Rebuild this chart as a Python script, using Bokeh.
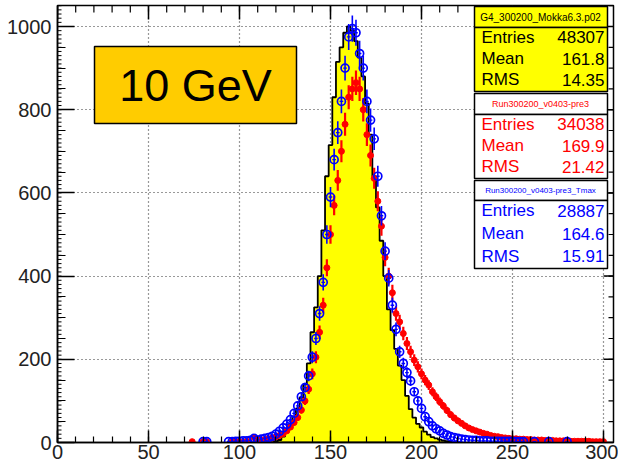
import numpy as np
from bokeh.plotting import figure
from bokeh.models import Range1d, FixedTicker, BoxAnnotation, Label
from bokeh.embed import file_html
from bokeh.resources import INLINE

# ---------------- data (bin centres, counts) ----------------
yel_x = [118, 120, 122, 124, 126, 128, 130, 132, 134, 136, 138, 140, 142, 144, 146, 148,
         150, 152, 154, 156, 158, 160, 162, 164, 166, 168, 170, 172, 174, 176, 178, 180,
         182, 184, 186, 188, 190, 192, 194, 196, 198, 200, 202, 204, 206, 208, 210, 212,
         214, 216, 218]
yel_y = [1, 3, 6, 14, 26, 42, 62, 82, 108, 140, 190, 265, 325, 400, 510, 640,
         715, 830, 915, 950, 985, 1000, 990, 965, 925, 880, 815, 740, 640, 565, 485, 400,
         320, 270, 225, 185, 150, 112, 80, 60, 45, 36, 26, 19, 13, 10, 7, 5,
         3, 2, 1]

red_x = [74, 80, 82, 96, 98, 100, 104, 108, 110, 112, 114, 116, 118, 120, 122, 124, 126,
         128, 130, 132, 134, 136, 138, 140, 142, 144, 146, 148, 150, 152, 154, 156, 158,
         160, 162, 164, 166, 168, 170, 172, 174, 176, 178, 180, 182, 184, 186, 188, 190,
         192, 194, 196, 198, 200, 202, 204, 206, 208, 210, 212, 214, 216, 218, 220, 222,
         224, 226, 228, 230, 232, 234, 236, 238, 240, 242, 244, 246, 248, 250, 252, 254,
         256, 258, 260, 262, 264, 266, 268, 270, 272, 274, 276, 278, 280, 282, 284, 286,
         288, 290, 292, 294, 296, 298, 300]
red_y = [2, 2, 2, 2, 2, 2, 3, 12, 5, 6, 7, 9, 11, 14, 17, 21, 28,
         37, 48, 60, 78, 100, 128, 165, 205, 265, 330, 420, 500, 570, 630, 700, 765,
         830, 850, 865, 850, 800, 740, 690, 635, 580, 520, 445, 400, 360, 310, 290, 262,
         238, 218, 198, 182, 165, 150, 138, 122, 110, 98, 88, 77, 67, 59, 52, 46,
         40, 35, 31, 28, 25, 22, 20, 17, 15, 14, 12, 11, 10, 9, 9, 8,
         8, 7, 7, 6, 6, 6, 5, 5, 5, 4, 4, 4, 4, 3, 3, 3,
         3, 3, 3, 2, 2, 2, 2]

blu_x = [80, 82, 94, 96, 98, 100, 102, 104, 106, 108, 110, 112, 114, 116, 118, 120, 122,
         124, 126, 128, 130, 132, 134, 136, 138, 140, 142, 144, 146, 148, 150, 152, 154,
         156, 158, 160, 162, 164, 166, 168, 170, 172, 174, 176, 178, 180, 182, 184, 186,
         188, 190, 192, 194, 196, 198, 200, 202, 204, 206, 208, 210, 212, 214, 216, 218,
         220, 222, 224, 226, 228, 230, 232, 234, 236, 238, 240, 242, 244, 246, 248, 250,
         252, 254, 256, 262, 270, 280]
blu_y = [2, 2, 2, 2, 3, 3, 4, 4, 5, 10, 6, 8, 10, 12, 15, 20, 27,
         35, 44, 55, 70, 88, 110, 132, 160, 205, 250, 310, 385, 500, 590, 680, 745,
         820, 900, 975, 995, 985, 935, 900, 820, 775, 730, 640, 545, 460, 395, 330, 272,
         218, 190, 168, 148, 122, 100, 82, 62, 50, 40, 33, 28, 22, 18, 14, 12,
         10, 8, 7, 6, 5, 5, 4, 4, 4, 3, 3, 3, 3, 3, 3, 3,
         2, 2, 2, 2, 2, 2]

x_ticks = [0, 50, 100, 150, 200, 250, 300]
y_ticks = [0, 200, 400, 600, 800, 1000]

stats_names = ["G4_300200_Mokka6.3.p02", "Run300200_v0403-pre3", "Run300200_v0403-pre3_Tmax"]
stats_entries = ["48307", "34038", "28887"]
stats_mean = ["161.8", "169.9", "164.6"]
stats_rms = ["14.35", "21.42", "15.91"]
energy_label = "10 GeV"

BIN_HALF = 1.0
XMAX = 305.5
YMAX = 1050.5

# ---------------- figure ----------------
W, H = 618, 465
FX0, FX1, FY0, FY1 = 57, 613, 5, 442
PXX = XMAX / (FX1 - FX0)   # data units per pixel (x)
PXY = YMAX / (FY1 - FY0)   # data units per pixel (y)

p = figure(width=W, height=H, x_range=Range1d(0, XMAX), y_range=Range1d(0, YMAX),
           output_backend="svg", toolbar_location=None,
           min_border_left=FX0, min_border_right=W - FX1,
           min_border_top=FY0, min_border_bottom=H - FY1)
p.background_fill_color = "white"
p.border_fill_color = "white"
p.outline_line_color = "black"
p.outline_line_width = 1.5

FONT = "Liberation Sans"

x_minor = list(range(0, 310, 10))
y_minor = list(range(0, 1051, 50))
y_tert = list(range(0, 1051, 10))
xt = FixedTicker(ticks=x_ticks, minor_ticks=x_minor)
yt = FixedTicker(ticks=y_ticks, minor_ticks=y_minor)

for ax in p.xaxis:
    ax.ticker = xt
    ax.major_tick_in = 12
    ax.major_tick_out = 0
    ax.minor_tick_in = 6
    ax.minor_tick_out = 0
    ax.major_label_standoff = 2
    ax.major_label_text_font = FONT
    ax.major_label_text_font_size = "20px"
    ax.major_label_text_color = "#222222"
    ax.axis_line_width = 1.5
    ax.major_tick_line_width = 1.5
    ax.minor_tick_line_width = 1.2
for ax in p.yaxis:
    ax.ticker = yt
    ax.major_tick_in = 17
    ax.major_tick_out = 0
    ax.minor_tick_in = 8
    ax.minor_tick_out = 0
    ax.major_label_standoff = 6
    ax.major_label_text_font = FONT
    ax.major_label_text_font_size = "20px"
    ax.major_label_text_color = "#222222"
    ax.axis_line_width = 1.5
    ax.major_tick_line_width = 1.5
    ax.minor_tick_line_width = 1.2

for g, tk in ((p.xgrid, xt), (p.ygrid, yt)):
    g.ticker = tk
    g.grid_line_color = "#333333"
    g.grid_line_dash = "1 3"
    g.grid_line_width = 1.2

# mirror ticks on top and right, tertiary ticks on left (ROOT style)
tx = np.array(x_ticks, dtype=float)
tmx = np.array(x_minor, dtype=float)
p.segment(tx, YMAX, tx, YMAX - 14 * PXY, line_color="black", line_width=1.5)
p.segment(tmx, YMAX, tmx, YMAX - 7 * PXY, line_color="black", line_width=1.2)
ty = np.array(y_ticks, dtype=float)
tmy = np.array(y_minor, dtype=float)
tty = np.array(y_tert, dtype=float)
p.segment(XMAX, ty, XMAX - 10 * PXX, ty, line_color="black", line_width=1.5)
p.segment(XMAX, tmy, XMAX - 5 * PXX, tmy, line_color="black", line_width=1.2)
p.segment(0, tty, 4 * PXX, tty, line_color="black", line_width=1.0)

# ---------------- yellow histogram ----------------
yx = np.array(yel_x, dtype=float)
yy = np.array(yel_y, dtype=float)
px_ = np.empty(2 * len(yx) + 2)
py_ = np.empty(2 * len(yx) + 2)
px_[0] = yx[0] - BIN_HALF
py_[0] = 0
px_[1:-1:2] = yx - BIN_HALF
px_[2:-1:2] = yx + BIN_HALF
py_[1:-1:2] = yy
py_[2:-1:2] = yy
px_[-1] = yx[-1] + BIN_HALF
py_[-1] = 0
p.patch(px_, py_, fill_color="#FFFF00", line_color="black", line_width=1.8)

# ---------------- red points ----------------
rx = np.array(red_x, dtype=float)
ry = np.array(red_y, dtype=float)
re = np.sqrt(ry)
p.segment(rx, ry - re, rx, ry + re, line_color="#FF0000", line_width=2.2)
p.segment(rx - BIN_HALF, ry, rx + BIN_HALF, ry, line_color="#FF0000", line_width=2.2)
p.scatter(rx, ry, marker="circle", size=6, fill_color="#FF0000", line_color="#FF0000")

# ---------------- blue points ----------------
bx = np.array(blu_x, dtype=float)
by = np.array(blu_y, dtype=float)
be = np.sqrt(by)
p.segment(bx, by - be, bx, by + be, line_color="#0000FF", line_width=1.6)
p.segment(bx - BIN_HALF, by, bx + BIN_HALF, by, line_color="#0000FF", line_width=1.4)
p.scatter(bx, by, marker="circle", size=8, fill_color=None, line_color="#0000FF",
          line_width=1.7)


# ---------------- annotations (pixel placement helpers) ----------------
def dx(px):
    return (px - FX0) * PXX


def dy(py):
    return (FY1 - py) * PXY


def box(l, t, r, b, fill):
    p.add_layout(BoxAnnotation(left=dx(l), right=dx(r), top=dy(t), bottom=dy(b),
                               fill_color=fill, fill_alpha=1.0, line_color="black",
                               line_width=1.5, line_alpha=1.0))


def text(px, py, s, size, color, align="left"):
    p.add_layout(Label(x=dx(px), y=dy(py), text=s, text_font=FONT, text_font_size=size,
                       text_color=color, text_align=align, text_baseline="middle"))


# energy label
box(94, 46, 296, 123, "#FFCC00")
text(195, 85, energy_label, "45px", "black", "center")

# stats boxes
colors = ["black", "#FF0000", "#0000FF"]
fills = ["#FFFF00", "white", "white"]
head_sizes = ["10px", "9px", "8px"]
layout = [(6, 27, 91), (93, 114, 178), (180, 200, 268)]
for i, (ht, hb, bb) in enumerate(layout):
    box(474, ht, 607, hb, fills[i])
    box(474, hb, 607, bb, fills[i])
    text(540, (ht + hb) / 2, stats_names[i], head_sizes[i], colors[i], "center")
    rows = [("Entries", stats_entries[i]), ("Mean", stats_mean[i]), ("RMS", stats_rms[i])]
    step = (bb - hb) / 3.0
    for j, (lab, val) in enumerate(rows):
        yy_ = hb + step * (j + 0.5) - 1
        text(481, yy_, lab, "17px", colors[i], "left")
        text(604, yy_, val, "17px", colors[i], "right")

open("out.html", "w").write(file_html(p, INLINE))
